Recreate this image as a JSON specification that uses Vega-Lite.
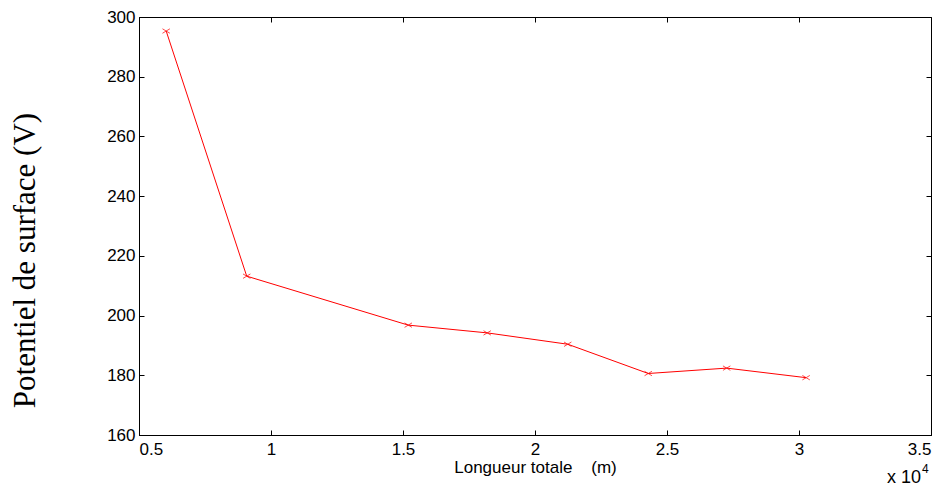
{
  "$schema": "https://vega.github.io/schema/vega-lite/v6.json",
  "width": 792,
  "height": 418,
  "autosize": "none",
  "padding": {"left": 139, "top": 17, "right": 21, "bottom": 53},
  "background": "white",
  "config": {
    "view": {"stroke": "black", "strokeWidth": 1},
    "axis": {"grid": false, "domainColor": "black", "tickColor": "black", "labelColor": "black", "titleColor": "black", "labelFont": "Liberation Sans", "labelFontSize": 17, "tickSize": -5, "tickWidth": 1}
  },
  "data": {"values": [
    {"longueur": 6030, "potentiel": 295.3},
    {"longueur": 9080, "potentiel": 213.2},
    {"longueur": 15200, "potentiel": 196.8},
    {"longueur": 18190, "potentiel": 194.2},
    {"longueur": 21240, "potentiel": 190.4},
    {"longueur": 24290, "potentiel": 180.6},
    {"longueur": 27260, "potentiel": 182.4},
    {"longueur": 30270, "potentiel": 179.2}
  ]},
  "layer": [
    {
      "mark": {"type": "line", "color": "#ff0000", "strokeWidth": 1},
      "encoding": {
        "x": {"field": "longueur", "type": "quantitative", "scale": {"domain": [5000, 35000], "nice": false, "zero": false},
          "axis": {"values": [5000, 10000, 15000, 20000, 25000, 30000, 35000], "labelExpr": "datum.value / 10000", "labelPadding": 11, "title": "Longueur totale \u00a0\u00a0\u00a0(m)", "titleFont": "Liberation Sans", "titleFontSize": 17, "titleFontWeight": "normal", "titlePadding": 2}},
        "y": {"field": "potentiel", "type": "quantitative", "scale": {"domain": [160, 300], "nice": false, "zero": false},
          "axis": {"values": [160, 180, 200, 220, 240, 260, 280, 300], "labelPadding": 9, "title": "Potentiel de surface (V)", "titleFont": "Liberation Serif", "titleFontSize": 31, "titleFontWeight": "normal", "titleX": -114, "titleY": 243, "titleAngle": -90, "titleAlign": "center", "titleBaseline": "middle"}}
      }
    },
    {
      "mark": {"type": "point", "shape": "M-1,-0.6L1,0.6M-1,0.6L1,-0.6", "filled": false, "stroke": "#ff0000", "strokeWidth": 1, "size": 55},
      "encoding": {
        "x": {"field": "longueur", "type": "quantitative", "axis": {"orient": "top", "values": [5000, 10000, 15000, 20000, 25000, 30000, 35000], "labels": false, "title": null, "domain": false}},
        "y": {"field": "potentiel", "type": "quantitative", "axis": {"orient": "right", "values": [160, 180, 200, 220, 240, 260, 280, 300], "labels": false, "title": null, "domain": false}}
      }
    },
    {
      "data": {"values": [{"label": "x 10"}]},
      "mark": {"type": "text", "font": "Liberation Sans", "fontSize": 18, "fontWeight": "normal", "align": "right", "baseline": "alphabetic", "dy": 48, "dx": -10, "color": "black"},
      "encoding": {
        "text": {"field": "label"},
        "x": {"datum": 35000, "type": "quantitative", "axis": null},
        "y": {"datum": 160, "type": "quantitative", "axis": null}
      }
    },
    {
      "data": {"values": [{"label": "4"}]},
      "mark": {"type": "text", "font": "Liberation Sans", "fontSize": 12, "fontWeight": "normal", "align": "left", "baseline": "alphabetic", "dy": 38, "dx": -9, "color": "black"},
      "encoding": {
        "text": {"field": "label"},
        "x": {"datum": 35000, "type": "quantitative", "axis": null},
        "y": {"datum": 160, "type": "quantitative", "axis": null}
      }
    }
  ],
  "resolve": {"axis": {"x": "independent", "y": "independent"}}
}
